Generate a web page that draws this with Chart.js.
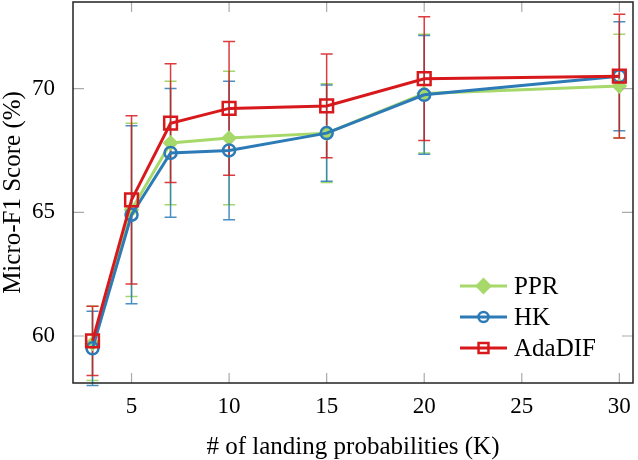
<!DOCTYPE html>
<html lang="en">
<head>
    <meta charset="UTF-8">
    <title>Micro-F1 vs K</title>
    <script src="https://cdn.jsdelivr.net/npm/chart.js"></script>
    <style>
        html, body { margin: 0; padding: 0; background: #fff; }
        .chart-container { width: 638px; height: 460px; }
    </style>
</head>
<body>
    <div class="chart-container">
        <canvas id="f1Chart"></canvas>
    </div>

    <script>
        // values
        const kValues = [3, 5, 7, 10, 15, 20, 30];
        const xTicks = [5, 10, 15, 20, 25, 30];
        const yTicks = [60, 65, 70];

        const pprMean = [59.7, 65.1, 67.8, 68.0, 68.2, 69.8, 70.1];
        const pprErr  = [1.5, 3.5, 2.5, 2.7, 2.0, 2.4, 2.1];
        const hkMean  = [59.5, 64.9, 67.4, 67.5, 68.2, 69.75, 70.5];
        const hkErr   = [1.5, 3.6, 2.6, 2.8, 1.95, 2.4, 2.2];
        const adaMean = [59.8, 65.5, 68.6, 69.2, 69.3, 70.4, 70.5];
        const adaErr  = [1.4, 3.4, 2.4, 2.7, 2.1, 2.5, 2.5];

        const serif = '"Liberation Serif", "Times New Roman", Times, serif';

        function toPoints(ys) {
            return kValues.map((k, i) => ({ x: k, y: ys[i] }));
        }

        // vertical error bars with caps, drawn under the lines
        const errorBars = {
            id: 'errorBars',
            beforeDatasetsDraw(chart) {
                const ctx = chart.ctx;
                const xs = chart.scales.x, ys = chart.scales.y;
                chart.data.datasets.forEach(ds => {
                    ctx.save();
                    ctx.strokeStyle = ds.errColor;
                    ctx.lineWidth = 1.5;
                    ds.data.forEach((p, i) => {
                        const e = ds.errors[i];
                        const px = xs.getPixelForValue(p.x);
                        const top = ys.getPixelForValue(p.y + e);
                        const bot = ys.getPixelForValue(p.y - e);
                        ctx.beginPath();
                        ctx.moveTo(px, top); ctx.lineTo(px, bot);
                        ctx.moveTo(px - 6, top); ctx.lineTo(px + 6, top);
                        ctx.moveTo(px - 6, bot); ctx.lineTo(px + 6, bot);
                        ctx.stroke();
                    });
                    ctx.restore();
                });
            }
        };

        // frame, inward tick marks and the legend inside the plot
        const frameAndLegend = {
            id: 'frameAndLegend',
            afterDraw(chart) {
                const ctx = chart.ctx;
                const a = chart.chartArea;
                const xs = chart.scales.x, ys = chart.scales.y;
                ctx.save();
                ctx.strokeStyle = '#aaa';
                ctx.lineWidth = 1.2;
                ctx.beginPath();
                xTicks.forEach(t => {
                    const px = xs.getPixelForValue(t);
                    ctx.moveTo(px, a.bottom); ctx.lineTo(px, a.bottom - 10);
                    ctx.moveTo(px, a.top); ctx.lineTo(px, a.top + 10);
                });
                yTicks.forEach(t => {
                    const py = ys.getPixelForValue(t);
                    ctx.moveTo(a.left, py); ctx.lineTo(a.left + 11, py);
                    ctx.moveTo(a.right, py); ctx.lineTo(a.right - 11, py);
                });
                ctx.stroke();
                ctx.strokeStyle = '#222';
                ctx.lineWidth = 1.5;
                ctx.strokeRect(a.left, a.top, a.right - a.left, a.bottom - a.top);

                // legend
                const lx0 = a.right - 173, lx1 = lx0 + 47;
                let ly = a.bottom - 97;
                ctx.font = '25px ' + serif;
                ctx.textBaseline = 'middle';
                chart.data.datasets.forEach(ds => {
                    ctx.strokeStyle = ds.borderColor;
                    ctx.lineWidth = ds.borderWidth;
                    ctx.beginPath();
                    ctx.moveTo(lx0, ly); ctx.lineTo(lx1, ly);
                    ctx.stroke();
                    ctx.fillStyle = ds.pointBackgroundColor;
                    ctx.lineWidth = ds.pointBorderWidth;
                    Chart.helpers.drawPoint(ctx, {
                        pointStyle: ds.pointStyle,
                        radius: ds.legendRadius,
                        borderWidth: ds.pointBorderWidth
                    }, (lx0 + lx1) / 2, ly);
                    ctx.fillStyle = '#000';
                    ctx.fillText(ds.label, lx1 + 7, ly + 1);
                    ly += 31;
                });
                ctx.restore();
            }
        };

        new Chart(document.getElementById('f1Chart'), {
            type: 'line',
            data: {
                datasets: [{
                    label: 'PPR',
                    data: toPoints(pprMean),
                    errors: pprErr,
                    borderColor: 'rgb(166, 217, 106)',
                    errColor: 'rgba(150, 210, 90, 0.9)',
                    borderWidth: 3,
                    pointStyle: 'rectRot',
                    pointRadius: 6.5,
                    legendRadius: 7,
                    pointBorderWidth: 2,
                    pointBackgroundColor: 'rgb(166, 217, 106)',
                    order: 3
                }, {
                    label: 'HK',
                    data: toPoints(hkMean),
                    errors: hkErr,
                    borderColor: 'rgb(44, 123, 182)',
                    errColor: 'rgba(44, 123, 182, 0.85)',
                    borderWidth: 3,
                    pointStyle: 'circle',
                    pointRadius: 6,
                    legendRadius: 5,
                    pointBorderWidth: 2.5,
                    pointBackgroundColor: 'rgba(255, 255, 255, 0)',
                    order: 2
                }, {
                    label: 'AdaDIF',
                    data: toPoints(adaMean),
                    errors: adaErr,
                    borderColor: 'rgb(215, 25, 28)',
                    errColor: 'rgba(215, 25, 28, 0.85)',
                    borderWidth: 3,
                    pointStyle: 'rect',
                    pointRadius: 9,
                    legendRadius: 7,
                    pointBorderWidth: 2.5,
                    pointBackgroundColor: 'rgba(255, 255, 255, 0)',
                    order: 1
                }]
            },
            options: {
                responsive: true,
                maintainAspectRatio: false,
                animation: false,
                layout: { autoPadding: false, padding: { top: 2, right: 5 } },
                plugins: {
                    legend: { display: false },
                    tooltip: { enabled: false }
                },
                elements: { line: { tension: 0 } },
                scales: {
                    x: {
                        type: 'linear',
                        min: 2,
                        max: 30.7,
                        grid: { display: false },
                        border: { display: false },
                        afterBuildTicks: s => { s.ticks = xTicks.map(v => ({ value: v })); },
                        afterFit: s => { s.height = 77; s.paddingLeft = 0; s.paddingRight = 0; },
                        ticks: {
                            color: '#000',
                            padding: 2,
                            maxRotation: 0,
                            font: { family: serif, size: 23 }
                        },
                        title: {
                            display: true,
                            text: '# of landing probabilities (K)',
                            color: '#000',
                            padding: { top: 0, bottom: 0 },
                            font: { family: serif, size: 25, lineHeight: 1 }
                        }
                    },
                    y: {
                        min: 58.1,
                        max: 73.5,
                        grid: { display: false },
                        border: { display: false },
                        afterBuildTicks: s => { s.ticks = yTicks.map(v => ({ value: v })); },
                        afterFit: s => { s.width = 73; s.paddingTop = 0; s.paddingBottom = 0; },
                        ticks: {
                            color: '#000',
                            padding: 10,
                            font: { family: serif, size: 23 }
                        },
                        title: {
                            display: true,
                            text: 'Micro-F1 Score (%)',
                            color: '#000',
                            padding: { top: 0, bottom: 0 },
                            font: { family: serif, size: 25, lineHeight: 1.1 }
                        }
                    }
                }
            },
            plugins: [errorBars, frameAndLegend]
        });
    </script>
</body>
</html>
